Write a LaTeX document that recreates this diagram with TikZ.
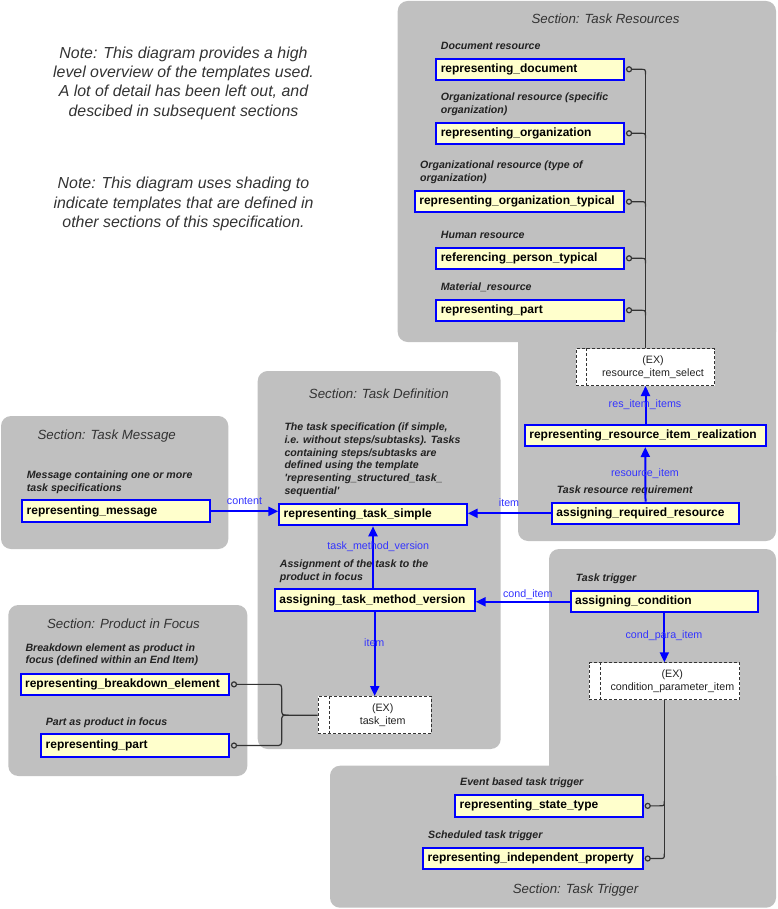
\documentclass[tikz,border=0pt]{standalone}
\usepackage{fontspec}
\setmainfont{Liberation Sans}
\usetikzlibrary{arrows.meta,calc}
\definecolor{secgray}{HTML}{C0C0C0}
\definecolor{boxfill}{HTML}{FFFFCC}
\definecolor{boxblue}{HTML}{0000FF}
\definecolor{lblblue}{HTML}{3333FF}
\definecolor{txtdark}{HTML}{222222}
\definecolor{notegray}{HTML}{333333}
\definecolor{connc}{HTML}{333333}
\tikzset{
 section/.style={fill=secgray, rounded corners=10pt},
 sectitle/.style={anchor=base, inner sep=0pt, font=\fontsize{13.3}{16}\selectfont\itshape, text=notegray},
 lbl/.style={anchor=base west, inner sep=0pt, align=left, font=\fontsize{10.6}{12.7}\selectfont\bfseries\itshape, text=txtdark},
 tbox/.style={draw=boxblue, fill=boxfill, line width=2pt, inner xsep=4.4pt, inner ysep=0pt, align=left, font=\fontsize{12}{14}\selectfont\bfseries, text=black},
 exbox/.style={draw=black!80, fill=white, dash pattern=on 3pt off 2pt, line width=0.9pt, inner sep=0pt},
 exline/.style={draw=black!80, dash pattern=on 3pt off 2pt, line width=0.9pt},
 extext/.style={inner sep=0pt, align=center, font=\fontsize{10.7}{12.6}\selectfont, text=txtdark},
 arrow/.style={draw=boxblue, line width=2pt, -{Triangle[length=10pt,width=9pt]}},
 arrlbl/.style={anchor=base, inner sep=0pt, font=\fontsize{10.7}{12.8}\selectfont, text=lblblue},
 conn/.style={draw=connc, line width=1.2pt},
 note/.style={anchor=base, inner sep=0pt, align=center, font=\fontsize{15.9}{19.4}\selectfont\itshape, text=notegray},
}
\newcommand\resconn[2]{%
 \draw[conn] ($(#1.east)+(4,0)$) circle[radius=2.5pt];
 \draw[conn] ($(#1.east)+(6.5,0)$) -- ($(#1.east -| #2)+(-5,0)$) .. controls (#1.east -| #2) .. ($(#1.east -| #2)+(0,5)$);
}
\newcommand\trigconn[2]{%
 \draw[conn] ($(#1.east)+(4,0)$) circle[radius=2.5pt];
 \draw[conn] ($(#1.east)+(6.5,0)$) -- ($(#1.east -| #2)+(-5,0)$) .. controls (#1.east -| #2) .. ($(#1.east -| #2)+(0,-5)$);
}
\begin{document}
\begin{tikzpicture}[x=1pt,y=-1pt]
\useasboundingbox (0,0) rectangle (777,909);
% sections
\fill[section] (397.7,1) rectangle (776,342);
\fill[section] (518,300) rectangle (776,541);
\fill[section] (257.7,371) rectangle (500.7,749);
\fill[section] (1,416) rectangle (228.3,549);
\fill[section] (8.3,605) rectangle (247.3,776);
\fill[section] (549,549) rectangle (776,800);
\fill[section] (330,765.7) rectangle (776,907.7);
% section titles
\node[sectitle] (tTR) at (605.5,23.8) {Section: Task Resources};
\node[sectitle] (tTD) at (378.8,398.1) {Section: Task Definition};
\node[sectitle] (tTM) at (106.7,439.1) {Section: Task Message};
\node[sectitle] (tPF) at (123.5,628.1) {Section: Product in Focus};
\node[sectitle] (tTT) at (575.5,893.1) {Section: Task Trigger};
% notes (base = last line)
\node[note] (note1) at (183.5,116.3) {Note: This diagram provides a high\\level overview of the templates used.\\A lot of detail has been left out, and\\descibed in subsequent sections};
\node[note] (note2) at (183.5,227.6) {Note: This diagram uses shading to\\indicate templates that are defined in\\other sections of this specification.};
% labels (base = last line)
\node[lbl] (l1) at (440.7,49.2) {Document resource};
\node[lbl] (l2) at (440.7,113.2) {Organizational resource (specific\\organization)};
\node[lbl] (l3) at (420,181.5) {Organizational resource (type of\\organization)};
\node[lbl] (l4) at (440.7,238.2) {Human resource};
\node[lbl] (l5) at (440.7,290.2) {Material\_resource};
\node[lbl] (l6) at (556.7,493.5) {Task resource requirement};
\node[lbl] (l7) at (26.7,491.2) {Message containing one or more\\task specifications};
\node[lbl] (l8) at (284.3,494.2) {The task specification (if simple,\\i.e. without steps/subtasks). Tasks\\containing steps/subtasks are\\defined using the template\\\textquotesingle representing\_structured\_task\_\\sequential\textquotesingle};
\node[lbl] (l9) at (279.7,580.2) {Assignment of the task to the\\product in focus};
\node[lbl] (l10) at (25.3,663.9) {Breakdown element as product in\\focus (defined within an End Item)};
\node[lbl] (l11) at (45.7,725.5) {Part as product in focus};
\node[lbl] (l12) at (575.7,581.5) {Task trigger};
\node[lbl] (l13) at (460,785.9) {Event based task trigger};
\node[lbl] (l14) at (428,838.2) {Scheduled task trigger};
% template boxes
\node[tbox, text width=178.9pt, minimum height=21.3pt] (rdoc) at (530.2,69.3) {representing\_document};
\node[tbox, text width=178.9pt, minimum height=21.3pt] (rorg) at (530.2,133.3) {representing\_organization};
\node[tbox, text width=200.2pt, minimum height=21.3pt] (rorgt) at (519.5,201.7) {representing\_organization\_typical};
\node[tbox, text width=178.9pt, minimum height=21.3pt] (rpers) at (530.2,258.3) {referencing\_person\_typical};
\node[tbox, text width=178.9pt, minimum height=21.3pt] (rpartR) at (530.2,310.3) {representing\_part};
\node[tbox, text width=231.9pt, minimum height=21pt] (rrir) at (645.3,435.5) {representing\_resource\_item\_realization};
\node[tbox, text width=178.2pt, minimum height=21.3pt] (arres) at (645.5,513.3) {assigning\_required\_resource};
\node[tbox, text width=179.2pt, minimum height=22pt] (rmsg) at (116.3,511.3) {representing\_message};
\node[tbox, text width=178.6pt, minimum height=21.6pt] (rts) at (373,514.5) {representing\_task\_simple};
\node[tbox, text width=190.9pt, minimum height=22pt] (atmv) at (374.85,600.3) {assigning\_task\_method\_version};
\node[tbox, text width=199.5pt, minimum height=21.3pt] (rbe) at (124.85,684.35) {representing\_breakdown\_element};
\node[tbox, text width=178.9pt, minimum height=22.4pt] (rpp) at (135.15,745.5) {representing\_part};
\node[tbox, text width=178.5pt, minimum height=21pt] (ac) at (664.35,601.8) {assigning\_condition};
\node[tbox, text width=178.6pt, minimum height=21.7pt] (rst) at (549,805.85) {representing\_state\_type};
\node[tbox, text width=210.6pt, minimum height=21pt] (rip) at (533,858.5) {representing\_independent\_property};
% EX boxes
\node[exbox, minimum width=138.7pt, minimum height=36.8pt] (ris) at (645.5,367.15) {};
\draw[exline] ($(ris.north west)+(11,0)$) -- ($(ris.south west)+(11,0)$);
\node[extext] (ristxt) at ($(ris.center)+(7.5,0)$) {(EX)\\resource\_item\_select};
\node[exbox, minimum width=113.1pt, minimum height=37.4pt] (ti) at (374.7,715.15) {};
\draw[exline] ($(ti.north west)+(11.6,0)$) -- ($(ti.south west)+(11.6,0)$);
\node[extext] (titxt) at ($(ti.center)+(8,0)$) {(EX)\\task\_item};
\node[exbox, minimum width=150.4pt, minimum height=37.1pt] (cpi) at (664.35,681.3) {};
\draw[exline] ($(cpi.north west)+(11.3,0)$) -- ($(cpi.south west)+(11.3,0)$);
\node[extext] (cpitxt) at ($(cpi.center)+(8,0)$) {(EX)\\condition\_parameter\_item};
% black connectors: resources
\draw[conn] ($(rdoc.east -| ris.north)+(0,5)$) -- (ris.north);
\resconn{rdoc}{ris.north}
\resconn{rorg}{ris.north}
\resconn{rorgt}{ris.north}
\resconn{rpers}{ris.north}
\resconn{rpartR}{ris.north}
% black connectors: trigger
\draw[conn] (cpi.south) -- ($(rip.east -| cpi.south)+(0,-5)$);
\trigconn{rst}{cpi.south}
\trigconn{rip}{cpi.south}
% black connectors: product in focus
\coordinate (bx) at ($(ti.west)+(-36,0)$);
\draw[conn] ($(rbe.east)+(4,0)$) circle[radius=2.5pt];
\draw[conn] ($(rbe.east)+(6.5,0)$) -- ($(rbe.east -| bx)+(-7,0)$) .. controls (rbe.east -| bx) .. ($(rbe.east -| bx)+(0,7)$) -- ($(bx)+(0,-7)$) .. controls (bx) .. ($(bx)+(7,0)$) -- (ti.west);
\draw[conn] ($(rpp.east)+(4,0)$) circle[radius=2.5pt];
\draw[conn] ($(rpp.east)+(6.5,0)$) -- ($(rpp.east -| bx)+(-7,0)$) .. controls (rpp.east -| bx) .. ($(rpp.east -| bx)+(0,-7)$) -- ($(bx)+(0,7)$) .. controls (bx) .. ($(bx)+(7,0)$);
% blue arrows
\draw[arrow] (rmsg.east) -- (rmsg.east -| rts.west);
\draw[arrow] (arres.west) -- (arres.west -| rts.east);
\draw[arrow] (arres.north) -- (rrir.south);
\draw[arrow] (rrir.north -| ris.south) -- (ris.south);
\draw[arrow] (rts.south |- atmv.north) -- (rts.south);
\draw[arrow] (ti.north |- atmv.south) -- (ti.north);
\draw[arrow] (ac.west) -- (ac.west -| atmv.east);
\draw[arrow] (ac.south) -- (cpi.north);
% arrow labels
\node[arrlbl] (a1) at (244.5,504.5) {content};
\node[arrlbl] (a2) at (509,506.8) {item};
\node[arrlbl] (a3) at (645,476.2) {resource\_item};
\node[arrlbl] (a4) at (645,407.5) {res\_item\_items};
\node[arrlbl] (a5) at (378.3,549.2) {task\_method\_version};
\node[arrlbl] (a6) at (374.3,646.8) {item};
\node[arrlbl] (a7) at (527.8,597.2) {cond\_item};
\node[arrlbl] (a8) at (664,638.8) {cond\_para\_item};
\end{tikzpicture}
\end{document}
